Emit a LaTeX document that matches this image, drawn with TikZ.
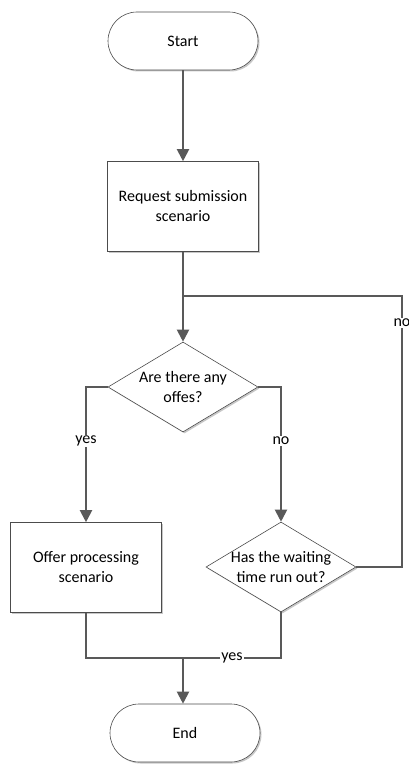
\documentclass[tikz,border=0pt]{standalone}
\usepackage{fontspec}
\setmainfont{Carlito}
\usetikzlibrary{shapes.geometric,arrows.meta,shadows}
\begin{document}
\begin{tikzpicture}[x=1pt,y=-1pt,
  shapeborder/.style={draw=black!70, line width=0.6pt, fill=white,
    drop shadow={shadow xshift=1.5pt,shadow yshift=-1.5pt,fill=black!22,opacity=1}},
  terminal/.style={shapeborder, rectangle, rounded corners=29pt, minimum width=150pt, minimum height=58pt, align=center},
  process/.style={shapeborder, rectangle, minimum width=151pt, minimum height=90pt, align=center},
  decision/.style={shapeborder, diamond, minimum width=150pt, minimum height=90pt, inner sep=0pt},
  dtext/.style={align=center, inner sep=0pt},
  conn/.style={draw=black!65, line width=2pt},
  arr/.style={conn, -{Triangle[length=12pt,width=12pt]}},
  lbl/.style={fill=white, inner sep=1pt},
  font=\fontsize{16}{20}\selectfont]
\useasboundingbox (0,0) rectangle (409,765);

\node[terminal] (start) at (183,41) {Start};
\node[process] (req) at (183,206.5) {Request submission\\scenario};
\node[decision] (d1) at (183,387) {};
\node[dtext] (d1t) at (d1) {Are there any\\offes?};
\node[process] (off) at (86,567.5) {Offer processing\\scenario};
\node[decision] (d2) at (281,567) {};
\node[dtext] (d2t) at (d2) {Has the waiting\\time run out?};
\node[terminal] (end) at (185,733) {End};

\coordinate (j1) at (183,296);
\coordinate (loopc) at (402,296);
\coordinate (j2) at (183,658);

\draw[arr] (start) -- (req);
\draw[arr] (req) -- (d1);
\draw[conn] (d2.east) -| (loopc) -- (j1);
\node[lbl] (nolbl2) at (402,323) {no};
\draw[arr] (d1.west) -| node[lbl,pos=0.7] (yeslbl1) {yes} (off);
\draw[arr] (d1.east) -| node[lbl,pos=0.7] (nolbl1) {no} (d2);
\draw[conn] (off.south) |- (j2);
\draw[conn] (d2.south) |- node[lbl,pos=0.75] (yeslbl2) {yes} (j2);
\draw[arr] (j2) -- (j2 |- end.north);
\end{tikzpicture}
\end{document}
